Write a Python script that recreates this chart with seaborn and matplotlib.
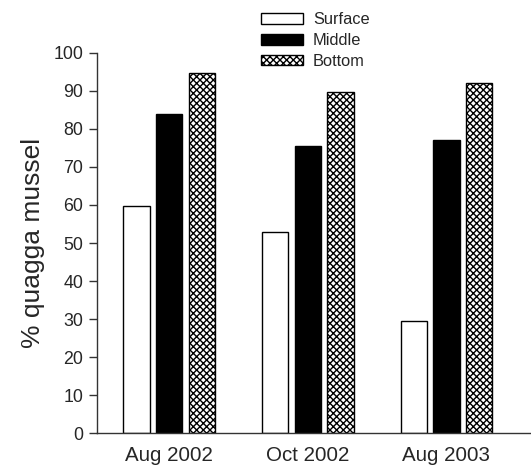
import pandas as pd
import matplotlib
matplotlib.use("Agg")
import matplotlib.pyplot as plt
import seaborn as sns

# datos
fechas = ["Aug 2002", "Oct 2002", "Aug 2003"]
profundidades = ["Surface", "Middle", "Bottom"]
surface = [59.7, 52.9, 29.5]
middle = [83.8, 75.6, 77.1]
bottom = [94.7, 89.8, 92.1]
y_ticks = [0, 10, 20, 30, 40, 50, 60, 70, 80, 90, 100]

df = pd.DataFrame({
    "fecha": fechas * 3,
    "prof": [p for p in profundidades for _ in fechas],
    "valor": surface + middle + bottom,
})

sns.set_style("ticks")
plt.rcParams["font.family"] = ["Liberation Sans", "DejaVu Sans"]
plt.rcParams["hatch.linewidth"] = 1.0

fig = plt.figure(figsize=(5.31, 4.71), dpi=100)
ax = fig.add_axes([0.1827, 0.08, 0.8173, 0.808])

sns.barplot(data=df, x="fecha", y="valor", hue="prof", order=fechas,
            hue_order=profundidades,
            palette={"Surface": "white", "Middle": "black", "Bottom": "white"},
            edgecolor="black", linewidth=1, width=0.705, gap=0.19,
            legend=False, ax=ax)

# trama cruzada para el fondo
for barra in ax.containers[2]:
    barra.set_hatch("xxxxx")

ax.set_xlim(-0.52, 2.61)
ax.set_ylim(0, 100)
ax.set_yticks(y_ticks)
ax.set_xlabel("")
ax.set_ylabel("% quagga mussel", fontsize=19, labelpad=6)
ax.tick_params(axis="y", labelsize=12.8, length=6, width=1, color="#333333", pad=4)
ax.tick_params(axis="x", labelsize=14.8, length=0, pad=9)
for lado in ["top", "right"]:
    ax.spines[lado].set_visible(False)
for lado in ["left", "bottom"]:
    ax.spines[lado].set_color("#333333")
    ax.spines[lado].set_linewidth(1)

fig.legend(ax.containers, profundidades, loc="upper left",
           bbox_to_anchor=(0.492, 0.974), frameon=False, fontsize=11.8,
           handlelength=2.56, handleheight=0.62, labelspacing=0.35,
           handletextpad=0.6, borderpad=0, borderaxespad=0)

fig.savefig("out.png", dpi=100)
